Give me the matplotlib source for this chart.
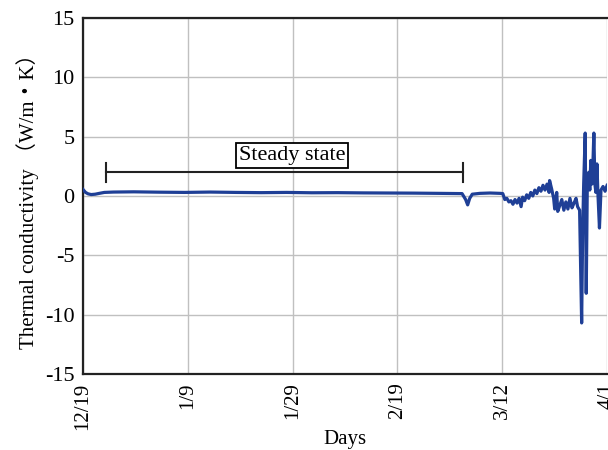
import matplotlib
matplotlib.use("Agg")
import matplotlib.pyplot as plt

plt.rcParams['font.family'] = ['Liberation Serif', 'Noto Sans CJK JP', 'DejaVu Sans']

# Data: days since 12/19, thermal conductivity (W/m·K)
days = [0, 0.5, 1.0, 1.6, 2.4, 3.2, 4.2, 6, 10, 15, 20, 25, 30, 35, 40, 45, 50, 55, 60,
        65, 70, 74.5, 75.2, 75.6, 76.0, 76.5, 78, 80, 82.0,
        82.5, 82.9, 83.3, 83.7, 84.1, 84.5, 84.9, 85.3, 85.7, 86.1, 86.4, 86.8, 87.2,
        87.6, 88.0, 88.4, 88.8, 89.2, 89.6, 90.0, 90.4, 90.8, 91.2, 91.6, 91.7, 92.1,
        92.5, 92.7, 93.1, 93.3, 93.7, 94.1, 94.5, 94.9, 95.3, 95.7, 96.1, 96.5, 96.9,
        97.2, 97.6, 97.8, 98.0, 98.2, 98.4, 98.7, 98.9, 99.1, 99.4, 99.6, 99.8, 100.0,
        100.2, 100.4, 100.6, 100.8, 101.0, 101.2, 101.5, 101.8, 102.2, 102.6, 103.0]
conductivity = [0.55, 0.3, 0.18, 0.12, 0.15, 0.22, 0.3, 0.33, 0.35, 0.32, 0.3, 0.33, 0.3,
                0.28, 0.3, 0.27, 0.28, 0.26, 0.25, 0.24, 0.22, 0.2, -0.3, -0.75, -0.2,
                0.15, 0.22, 0.25, 0.22,
                0.2, -0.3, -0.2, -0.5, -0.4, -0.7, -0.3, -0.6, -0.2, -0.9, -0.1, -0.4, 0.1,
                -0.2, 0.3, 0.0, 0.5, 0.2, 0.7, 0.4, 0.9, 0.5, 1.0, 0.3, 1.3, 0.6,
                -0.2, -1.1, 0.3, -1.3, -0.8, -0.3, -1.2, -0.5, -1.1, -0.2, -1.0, -0.6, -0.2,
                -0.9, -1.2, -6.0, -10.7, -3.0, 1.0, 5.3, -8.2, 0.5, 2.0, 0.5, 3.0, 1.0,
                2.5, 5.3, 1.0, 0.3, 2.7, 0.2, -2.7, 0.5, 0.8, 0.4, 0.9]

tick_pos = [0, 20.6, 41.2, 61.8, 82.4, 103]
tick_labels = ['12/19', '1/9', '1/29', '2/19', '3/12', '4/1']
y_ticks = [-15, -10, -5, 0, 5, 10, 15]

steady_start, steady_end, steady_level = 4.5, 74.6, 2.0

fig = plt.figure(figsize=(6.08, 4.5), dpi=100)
ax = fig.add_axes([0.1365, 0.169, 0.862, 0.791])

ax.plot(days, conductivity, color='#1f3f96', lw=2.3, solid_joinstyle='round', zorder=3)

ax.set_xlim(0, 103)
ax.set_ylim(-15, 15)
ax.set_xticks(tick_pos)
ax.set_xticklabels(tick_labels, rotation=90, fontsize=15)
ax.set_yticks(y_ticks)
ax.set_yticklabels([str(v) for v in y_ticks], fontsize=16)
ax.tick_params(length=0, pad=6)
ax.grid(True, color='#c0c0c0', lw=1.0)
ax.set_axisbelow(True)

for s in ['left', 'bottom', 'top']:
    ax.spines[s].set_color('#222222')
    ax.spines[s].set_linewidth(1.6)
ax.spines['right'].set_visible(False)

# Steady-state bracket
ax.plot([steady_start, steady_end], [steady_level, steady_level], color='#222222', lw=1.5, zorder=4)
for xs in (steady_start, steady_end):
    ax.plot([xs, xs], [steady_level - 0.8, steady_level + 0.8], color='#222222', lw=1.5, zorder=4)
ax.text((steady_start + steady_end) / 2 + 1.5, 3.4, 'Steady state', fontsize=16, ha='center',
        va='center', zorder=5,
        bbox=dict(boxstyle='square,pad=0.12', fc='white', ec='black', lw=1.3))

ax.set_xlabel('Days', fontsize=15, labelpad=0)
ax.set_ylabel('Thermal conductivity （W/m・K）', fontsize=15, labelpad=4)

fig.savefig('out.png', dpi=100)
